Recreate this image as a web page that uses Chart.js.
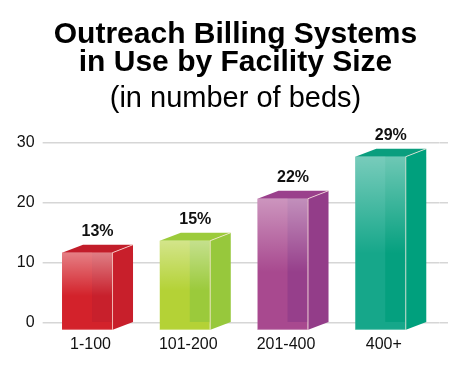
<!DOCTYPE html>
<html><head><meta charset="utf-8">
<script src="https://cdn.jsdelivr.net/npm/chart.js@4"></script>
<style>html,body{margin:0;padding:0;background:#fff}</style>
</head><body><canvas id="c" width="471" height="381"></canvas>
<script>
const categories = ['1-100', '101-200', '201-400', '400+'];
const values = [13, 15, 22, 29];
const valueLabels = ['13%', '15%', '22%', '29%'];
const titleLines = ['Outreach Billing Systems', 'in Use by Facility Size'];
const subtitleText = '(in number of beds)';
const frontColors = ['#d3222b', '#b4d236', '#a8498f', '#16a78a'];
const stripColors = ['#c8202c', '#9bca3b', '#963f8b', '#05a07f'];
const sideColors  = ['#c81f2b', '#97c83c', '#933d89', '#00a07d'];
const topColors   = ['#c21d2a', '#9ccb3b', '#9a408c', '#0a9e7e'];

Chart.defaults.font.family = "'Liberation Sans', Arial, Helvetica, sans-serif";

const cubePlugin = {
  id: 'cube',
  afterDatasetsDraw(chart) {
    const ctx = chart.ctx;
    const meta = chart.getDatasetMeta(0);
    const dx = 21, dy = 8;
    meta.data.forEach((el, i) => {
      const p = el.getProps(['x', 'y', 'base', 'width'], true);
      const w = p.width;
      const fx0 = p.x - w / 2 - dx / 2, fx1 = fx0 + w;
      const fy0 = p.y + dy, fy1 = p.base + dy;
      ctx.save();
      // top face
      ctx.fillStyle = topColors[i];
      ctx.beginPath();
      ctx.moveTo(fx0, fy0); ctx.lineTo(fx1, fy0); ctx.lineTo(fx1 + dx, fy0 - dy); ctx.lineTo(fx0 + dx, fy0 - dy);
      ctx.closePath(); ctx.fill();
      // side face
      ctx.fillStyle = sideColors[i];
      ctx.beginPath();
      ctx.moveTo(fx1, fy0); ctx.lineTo(fx1 + dx, fy0 - dy); ctx.lineTo(fx1 + dx, fy1 - dy); ctx.lineTo(fx1, fy1);
      ctx.closePath(); ctx.fill();
      // front face
      ctx.fillStyle = frontColors[i];
      ctx.fillRect(fx0, fy0, w, fy1 - fy0);
      // inner strip seen through glass
      const sx = fx0 + 0.6 * w;
      ctx.fillStyle = stripColors[i];
      ctx.fillRect(sx, fy0, fx1 - sx, (fy1 - dy) - fy0);
      // highlight gradient
      const h = fy1 - fy0;
      const g = ctx.createLinearGradient(0, fy0, 0, fy0 + h * 0.56);
      g.addColorStop(0, 'rgba(255,255,255,0.42)');
      g.addColorStop(1, 'rgba(255,255,255,0)');
      ctx.fillStyle = g;
      ctx.fillRect(fx0, fy0, w, h * 0.56);
      // light edges
      ctx.strokeStyle = 'rgba(255,235,225,0.75)';
      ctx.lineWidth = 1;
      ctx.beginPath();
      ctx.moveTo(fx1 + 0.5, fy1); ctx.lineTo(fx1 + 0.5, fy0); ctx.lineTo(fx1 + dx, fy0 - dy);
      ctx.stroke();
      ctx.strokeStyle = 'rgba(255,255,255,0.35)';
      ctx.beginPath();
      ctx.moveTo(fx0, fy1 - 0.5); ctx.lineTo(fx1, fy1 - 0.5);
      ctx.stroke();
      // value label
      ctx.fillStyle = '#111';
      ctx.font = "bold 16px 'Liberation Sans', Arial, sans-serif";
      ctx.textAlign = 'center';
      ctx.textBaseline = 'middle';
      ctx.fillText(valueLabels[i], p.x, p.y - 13.5);
      ctx.restore();
    });
  }
};

new Chart(document.getElementById('c'), {
  type: 'bar',
  data: {
    labels: categories,
    datasets: [{
      data: values,
      backgroundColor: 'rgba(0,0,0,0)',
      borderWidth: 0,
      barThickness: 50
    }]
  },
  options: {
    responsive: false,
    animation: false,
    layout: { padding: 0 },
    plugins: {
      legend: { display: false },
      tooltip: { enabled: false },
      title: {
        display: true,
        text: titleLines,
        color: '#000',
        font: { size: 30, weight: 'bold', lineHeight: '28px' },
        padding: { top: 21, bottom: 8 }
      },
      subtitle: {
        display: true,
        text: subtitleText,
        color: '#000',
        font: { size: 29, weight: 'normal', lineHeight: '28px' },
        padding: { top: 0, bottom: 29.7 }
      }
    },
    scales: {
      x: {
        grid: { display: false, drawTicks: false },
        border: { display: false },
        ticks: { color: '#111', font: { size: 16 }, padding: 12.2, labelOffset: -7 },
        afterFit(s) { s.height = 58.3; }
      },
      y: {
        min: 0, max: 30,
        ticks: { stepSize: 10, color: '#111', font: { size: 16 }, padding: 8 },
        grid: { color: '#d6d6d6', lineWidth: 1.5, tickLength: 6, drawTicks: true },
        border: { display: false },
        afterFit(s) { s.width = 48.65; }
      },
      y2: {
        position: 'right',
        min: 0, max: 30,
        ticks: { display: false, stepSize: 10 },
        grid: { drawOnChartArea: false, color: '#d6d6d6', lineWidth: 1.5, tickLength: 8.35, drawTicks: true },
        border: { display: false },
        afterFit(s) { s.width = 31.35; }
      }
    }
  },
  plugins: [cubePlugin]
});
</script>
</body></html>
